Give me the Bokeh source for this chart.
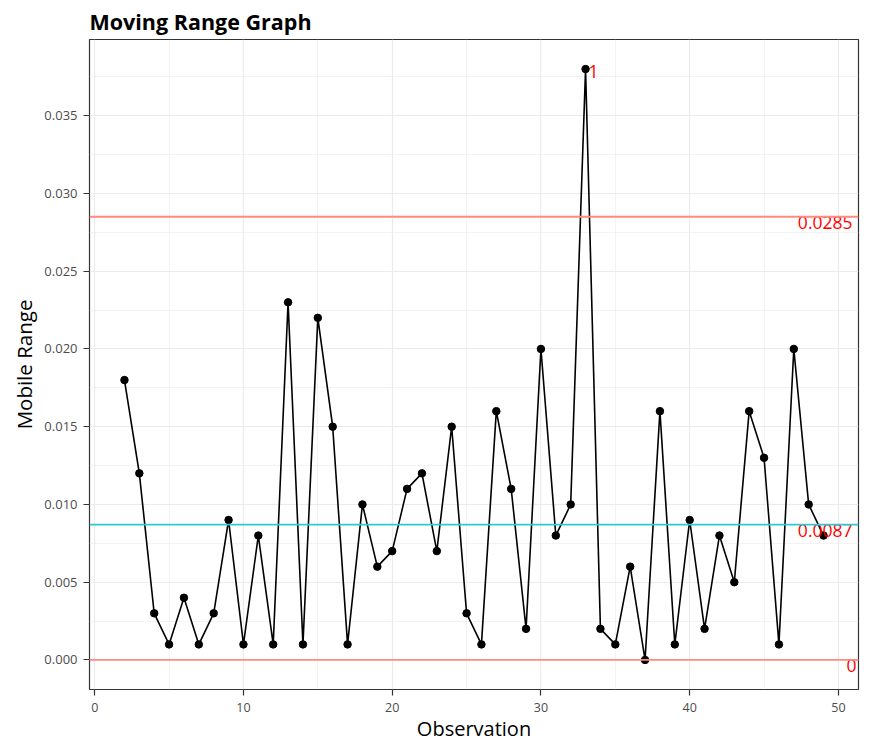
from bokeh.plotting import figure
from bokeh.embed import file_html
from bokeh.resources import INLINE
from bokeh.models import FixedTicker, Range1d, ColumnDataSource, Span
from bokeh.core.properties import value

# ---- data ----
observation = list(range(2, 50))
moving_range = [0.018, 0.012, 0.003, 0.001, 0.004, 0.001, 0.003, 0.009, 0.001, 0.008,
                0.001, 0.023, 0.001, 0.022, 0.015, 0.001, 0.010, 0.006, 0.007, 0.011,
                0.012, 0.007, 0.015, 0.003, 0.001, 0.016, 0.011, 0.002, 0.020, 0.008,
                0.010, 0.038, 0.002, 0.001, 0.006, 0.000, 0.016, 0.001, 0.009, 0.002,
                0.008, 0.005, 0.016, 0.013, 0.001, 0.020, 0.010, 0.008]
ucl = 0.0285
cl = 0.0087
lcl = 0.0
ucl_label = "0.0285"
cl_label = "0.0087"
lcl_label = "0"
out_obs = [33]
out_val = [0.038]
out_label = ["1"]
x_ticks = [0, 10, 20, 30, 40, 50]
x_minor = [5, 15, 25, 35, 45]
y_ticks = [0.0, 0.005, 0.010, 0.015, 0.020, 0.025, 0.030, 0.035]
y_tick_labels = ["0.000", "0.005", "0.010", "0.015", "0.020", "0.025", "0.030", "0.035"]
y_minor = [0.0025, 0.0075, 0.0125, 0.0175, 0.0225, 0.0275, 0.0325, 0.0375]

FONT = "Open Sans"

xmin, xmax = min(observation), max(observation)
xpad = (xmax - xmin) * 0.05
ymin, ymax = min(moving_range), max(moving_range)
ypad = (ymax - ymin) * 0.05

p = figure(width=883, height=744, output_backend="svg", toolbar_location=None,
           frame_width=769, frame_height=650,
           x_range=Range1d(xmin - xpad, xmax + xpad),
           y_range=Range1d(ymin - ypad, ymax + ypad),
           min_border_left=89, min_border_right=25, min_border_top=39, min_border_bottom=55,
           title="Moving Range Graph")

p.title.text_font = FONT
p.title.text_font_style = "bold"
p.title.text_font_size = "21.5px"
p.title.text_color = "black"
p.title.offset = 0
p.title.standoff = 8

p.background_fill_color = "white"
p.border_fill_color = "white"
p.outline_line_color = "#333333"
p.outline_line_width = 1.2

p.xaxis.ticker = FixedTicker(ticks=x_ticks, minor_ticks=x_minor)
p.yaxis.ticker = FixedTicker(ticks=y_ticks, minor_ticks=y_minor)
p.yaxis.major_label_overrides = {t: l for t, l in zip(y_ticks, y_tick_labels)}

for ax in (p.xaxis, p.yaxis):
    ax.axis_line_color = None
    ax.major_tick_line_color = "#333333"
    ax.major_tick_line_width = 1.2
    ax.major_tick_out = 6
    ax.major_tick_in = 0
    ax.minor_tick_line_color = None
    ax.major_label_text_font = FONT
    ax.major_label_text_color = "#4D4D4D"
    ax.axis_label_text_font = FONT
    ax.axis_label_text_font_style = "normal"
    ax.axis_label_text_color = "black"

p.xaxis.major_label_text_font_size = "12.5px"
p.yaxis.major_label_text_font_size = "13px"
p.xaxis.axis_label_text_font_size = "20px"
p.yaxis.axis_label_text_font_size = "20.5px"

p.xaxis.axis_label = "Observation"
p.yaxis.axis_label = "Mobile Range"
p.xaxis.major_label_standoff = 7
p.yaxis.major_label_standoff = 6
p.xaxis.axis_label_standoff = 0
p.yaxis.axis_label_standoff = 3

for g in (p.xgrid, p.ygrid):
    g.grid_line_color = "#EBEBEB"
    g.grid_line_width = 1.2
    g.minor_grid_line_color = "#EBEBEB"
    g.minor_grid_line_width = 0.6

# control lines
p.add_layout(Span(location=ucl, dimension="width", line_color="#FF8A80", line_width=1.8))
p.add_layout(Span(location=cl, dimension="width", line_color="#33C8CC", line_width=1.8))
p.add_layout(Span(location=lcl, dimension="width", line_color="#FF8A80", line_width=1.8))

src = ColumnDataSource(dict(x=observation, y=moving_range))
p.line("x", "y", source=src, line_color="black", line_width=1.6)
p.scatter("x", "y", source=src, size=7.5, fill_color="black", line_color="black")

xr = xmax + xpad
lab_src = ColumnDataSource(dict(x=[xr, xr], y=[ucl, cl], t=[ucl_label, cl_label]))
p.text("x", "y", text="t", source=lab_src, text_align="right", text_baseline="top",
       x_offset=-6, y_offset=-1, text_color="red", text_font=value(FONT), text_font_size="17.5px")
lcl_src = ColumnDataSource(dict(x=[xr], y=[lcl], t=[lcl_label]))
p.text("x", "y", text="t", source=lcl_src, text_align="right", text_baseline="top",
       x_offset=-2, y_offset=-1, text_color="red", text_font=value(FONT), text_font_size="17.5px")

out_src = ColumnDataSource(dict(x=out_obs, y=out_val, t=out_label))
p.text("x", "y", text="t", source=out_src, text_align="left", text_baseline="middle",
       x_offset=3, y_offset=2, text_color="red", text_font=value(FONT), text_font_size="17.5px")

open("out.html", "w").write(file_html(p, INLINE))
